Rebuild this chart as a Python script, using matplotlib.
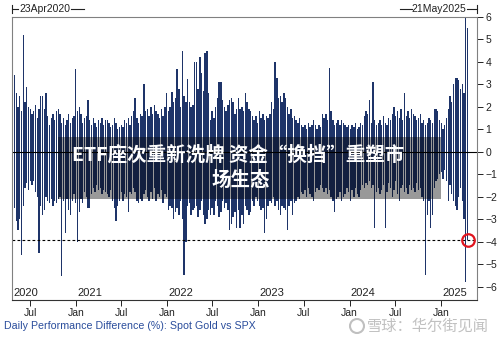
import pandas as pd
import matplotlib
matplotlib.use("Agg")
import matplotlib.pyplot as plt
import matplotlib.dates as mdates
from matplotlib.patches import Rectangle, Ellipse
from matplotlib.lines import Line2D

plt.rcParams['font.family'] = ['Liberation Sans', 'Noto Sans CJK SC', 'DejaVu Sans']

# weekly envelope of the daily gold-minus-SPX return difference (%)
START = "2020-04-23"
up = [3.5, 3.4, 2.6, 2.0, 2.5, 1.8, 5.2, 2.2, 2.9, 2.0,
      1.9, 1.7, 1.8, 2.1, 1.5, 1.9, 2.5, 2.5, 1.9, 2.6,
      1.6, 1.2, 1.5, 1.7, 1.4, 1.8, 1.9, 1.7, 1.3, 1.5,
      1.2, 1.4, 1.7, 1.3, 1.5, 1.6, 3.7, 1.8, 2.0, 1.7,
      1.3, 1.5, 1.6, 2.3, 1.4, 1.2, 1.5, 1.3, 1.1, 1.4,
      1.3, 1.5, 1.2, 1.4, 1.4, 1.3, 1.1, 1.2, 1.5, 1.3,
      1.0, 1.1, 1.2, 1.1, 1.4, 1.3, 1.5, 1.2, 1.6, 1.8,
      2.4, 1.5, 1.3, 1.7, 1.6, 3.0, 1.8, 1.9, 1.6, 2.0,
      1.7, 2.1, 1.8, 1.7, 1.5, 1.9, 1.6, 2.0, 2.6, 1.8,
      2.0, 2.65, 2.2, 2.4, 3.7, 2.8, 2.0, 4.5, 2.5, 2.2,
      3.25, 2.2, 2.0, 2.1, 4.0, 4.0, 2.8, 4.2, 3.5, 2.7,
      4.4, 4.5, 2.6, 1.4, 1.8, 1.5, 2.0, 2.4, 3.1, 3.1,
      2.3, 2.0, 1.8, 2.1, 2.3, 2.4, 2.2, 1.7, 1.9, 2.4,
      1.9, 2.0, 1.8, 2.6, 2.2, 1.9, 1.8, 1.6, 1.4, 1.6,
      1.3, 1.8, 1.5, 1.7, 1.4, 1.6, 1.5, 1.7, 2.2, 1.9,
      4.0, 3.3, 2.4, 2.5, 2.2, 2.6, 2.4, 2.0, 1.7, 1.9,
      1.5, 1.6, 1.4, 1.3, 1.5, 1.2, 1.1, 1.2, 1.0, 1.3,
      1.1, 1.2, 1.4, 1.2, 1.0, 1.2, 1.1, 1.7, 1.5, 1.7,
      1.4, 3.75, 1.8, 1.4, 1.2, 1.3, 1.4, 1.2, 1.4, 1.3,
      1.2, 1.1, 1.2, 1.0, 1.2, 1.1, 1.3, 1.0, 1.1, 1.3,
      1.2, 1.6, 1.8, 1.7, 2.3, 1.3, 3.1, 1.4, 1.2, 1.3,
      1.4, 1.2, 1.6, 1.3, 1.2, 1.5, 1.4, 1.7, 2.0, 1.6,
      1.8, 1.5, 1.9, 1.4, 2.6, 1.6, 1.8, 1.5, 1.9, 1.7,
      1.6, 1.4, 1.5, 1.7, 1.3, 1.4, 1.2, 1.3, 1.5, 1.4,
      1.3, 1.9, 1.9, 1.8, 1.4, 1.3, 1.0, 1.2, 1.5, 1.9,
      2.5, 2.2, 3.0, 3.3, 3.3, 3.2, 2.8, 3.0, 2.6, 6.0,
      5.5]
down = [-2.8, -2.5, -3.1, -3.5, -3.0, -4.6, -2.4, -1.6, -1.4, -1.7,
        -1.3, -1.5, -1.3, -1.8, -2.0, -4.5, -2.4, -2.8, -2.6, -2.0,
        -2.2, -2.3, -2.1, -2.4, -2.2, -2.3, -2.1, -2.0, -5.55, -2.2,
        -3.6, -2.1, -2.6, -2.8, -2.2, -1.9, -2.3, -4.0, -2.7, -2.1,
        -2.3, -1.8, -2.0, -2.5, -2.5, -1.9, -1.6, -1.8, -1.5, -1.7,
        -1.6, -1.9, -1.7, -1.8, -1.9, -2.0, -1.7, -2.2, -2.5, -3.1,
        -2.4, -2.2, -1.8, -2.2, -1.9, -2.0, -2.7, -1.8, -1.9, -1.6,
        -1.8, -2.2, -2.3, -2.1, -2.2, -1.9, -1.7, -2.0, -2.2, -1.8,
        -2.1, -1.6, -2.2, -1.9, -2.0, -1.7, -2.3, -1.9, -2.0, -2.6,
        -2.4, -2.5, -3.0, -2.7, -2.5, -2.8, -2.2, -3.0, -5.5, -4.0,
        -2.4, -2.3, -2.8, -2.6, -2.5, -2.4, -2.9, -2.6, -2.2, -2.8,
        -3.2, -3.0, -2.6, -2.8, -2.5, -2.8, -2.2, -2.4, -2.9, -2.7,
        -2.2, -2.5, -2.3, -2.6, -3.5, -3.2, -2.9, -2.7, -3.4, -2.6,
        -3.4, -2.8, -3.2, -2.4, -2.6, -2.8, -2.7, -2.2, -2.4, -2.0,
        -2.2, -2.4, -2.6, -2.5, -3.6, -3.0, -2.4, -2.2, -2.3, -2.0,
        -2.4, -2.2, -2.6, -2.8, -2.4, -2.5, -2.6, -3.5, -2.4, -2.2,
        -2.8, -2.3, -2.2, -2.0, -2.1, -1.8, -1.9, -1.7, -2.0, -1.6,
        -1.9, -2.0, -2.2, -1.8, -1.6, -1.7, -1.5, -1.6, -1.8, -1.6,
        -1.9, -1.7, -2.0, -2.2, -2.7, -2.1, -2.0, -1.8, -2.2, -2.0,
        -1.9, -1.6, -1.8, -2.2, -1.7, -2.0, -1.6, -1.9, -2.0, -1.7,
        -1.5, -1.6, -1.4, -1.5, -1.3, -1.6, -1.5, -3.4, -1.8, -1.6,
        -1.9, -1.7, -1.5, -3.4, -1.8, -1.4, -1.6, -2.0, -1.7, -1.3,
        -1.9, -2.2, -1.6, -1.5, -1.8, -1.6, -1.9, -1.5, -1.7, -1.6,
        -1.8, -1.4, -1.7, -1.6, -2.0, -2.2, -5.5, -2.8, -2.2, -3.4,
        -2.8, -1.6, -1.3, -1.2, -1.0, -0.9, -1.2, -0.8, -1.3, -2.2,
        -1.5, -1.9, -2.2, -2.4, -2.6, -2.0, -1.6, -2.2, -3.0, -5.8,
        -3.95]
ALERT = -3.95
YEARS = [2020, 2021, 2022, 2023, 2024, 2025]
Y_TICKS = list(range(-6, 7))

dates = pd.date_range(START, periods=len(up), freq="7D")
x0, x1 = pd.Timestamp("2020-04-20"), pd.Timestamp("2025-05-25")

W, H = 500, 337
fig = plt.figure(figsize=(W / 100, H / 100), dpi=100)


def fx(px):
    return px / W


def fy(py):
    return 1 - py / H


ax = fig.add_axes([fx(12), fy(300), fx(477) - fx(12), fy(17) - fy(300)])
navy = '#1e3469'
ax.bar(dates, up, width=5.5, color=navy, linewidth=0)
ax.bar(dates, down, width=5.5, color=navy, linewidth=0)
ax.axhline(0, color='black', lw=0.8)
ax.axhline(ALERT, color='black', lw=0.8, ls=(0, (2.5, 2)))
ax.plot(dates[-1], down[-1], 'o', ms=9, mfc='none', mec='#e0141e', mew=1.6, zorder=5)

ax.set_xlim(x0, x1)
ax.set_ylim(-6.6, 6)

ax.yaxis.tick_right()
ax.set_yticks(Y_TICKS)
ax.tick_params(axis='y', direction='out', length=4, width=0.7, labelsize=7.5, pad=2, colors='#222222')
ax.xaxis.set_major_locator(mdates.MonthLocator(bymonth=[1, 7]))
ax.xaxis.set_major_formatter(mdates.DateFormatter('%b'))
ax.tick_params(axis='x', direction='out', length=4, width=0.7, labelsize=7.5, pad=1.5, colors='#222222')
for s in ['left', 'top', 'right']:
    ax.spines[s].set_color('#808080')
    ax.spines[s].set_linewidth(0.8)
ax.spines['bottom'].set_color('#333333')

# year labels inside the bottom of the plot
for yr in YEARS:
    pos = max(pd.Timestamp(f"{yr}-01-01"), x0) + pd.Timedelta(days=5)
    ax.text(pos, 0.008, str(yr), transform=ax.get_xaxis_transform(),
            ha='left', va='bottom', fontsize=8, color='#222222')

# date range markers above the plot
fig.text(fx(19), fy(9), "23Apr2020", fontsize=7.5, va='center', ha='left', color='#222222')
fig.text(fx(466), fy(9), "21May2025", fontsize=7.5, va='center', ha='right', color='#222222')
for xa, xb in [(12, 18), (71, 84), (400, 412), (467, 477)]:
    fig.add_artist(Line2D([fx(xa), fx(xb)], [fy(9), fy(9)], color='#222222', lw=0.8))
for xv in [12, 477]:
    fig.add_artist(Line2D([fx(xv), fx(xv)], [fy(5), fy(13)], color='#222222', lw=0.8))

fig.text(fx(4), fy(326), "Daily Performance Difference (%): Spot Gold vs SPX",
         fontsize=7.7, color='#2a4d9c', va='center', ha='left')

# headline banner
fig.add_artist(Rectangle((fx(58), fy(199)), fx(441) - fx(58), fy(137) - fy(199),
                         transform=fig.transFigure, facecolor='black', alpha=0.4, lw=0))
fig.text(fx(238), fy(155), "ETF座次重新洗牌 资金“换挡”重塑市", fontsize=14, color='white',
         fontweight='bold', ha='center', va='center', family=['Noto Sans CJK SC', 'DejaVu Sans'])
fig.text(fx(241), fy(180), "场生态", fontsize=14, color='white',
         fontweight='bold', ha='center', va='center', family=['Noto Sans CJK SC', 'DejaVu Sans'])

# watermark
fig.add_artist(Ellipse((fx(357), fy(326)), 14 / W, 14 / H, transform=fig.transFigure,
                       facecolor='none', edgecolor='#c0c0c0', lw=1.5))
fig.text(fx(367), fy(326), "雪球：华尔街见闻", fontsize=11, color='#c0c0c0',
         va='center', ha='left', family=['Noto Sans CJK SC', 'DejaVu Sans'])

fig.savefig("out.png", dpi=100)
